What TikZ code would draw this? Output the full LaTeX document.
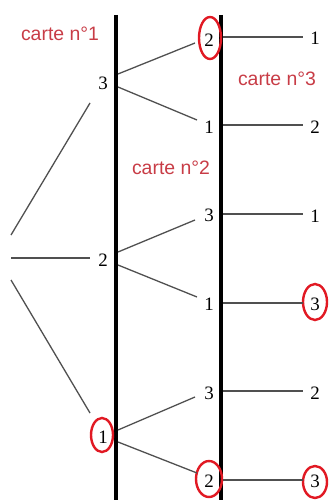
\documentclass[tikz,border=0pt]{standalone}
\usepackage{fontspec}
\setmainfont{Liberation Serif}
\newfontfamily\labfont{Liberation Sans}
\definecolor{labred}{RGB}{200,60,70}
\definecolor{ringred}{RGB}{225,25,35}
\definecolor{branch}{RGB}{80,80,80}
\begin{document}
\begin{tikzpicture}[x=1bp,y=-1bp,
  num/.style={inner sep=0pt,font=\fontsize{19}{20}\selectfont},
  cardlab/.style={inner sep=0pt,text=labred,font=\labfont\fontsize{19.5}{20}\selectfont},
  bar/.style={line width=3.6bp,black},
  br/.style={line width=1.3bp,branch},
  ring/.style={draw=ringred,line width=2.4bp,ellipse,inner sep=0pt}]
\useasboundingbox (0,0) rectangle (329,500);
% bars
\coordinate (b1t) at (116,15); \coordinate (b1b) at (116,500);
\coordinate (b2t) at (221,15); \coordinate (b2b) at (221,500);
\draw[bar] (b1t) -- (b1b);
\draw[bar] (b2t) -- (b2b);
% card labels
\node[cardlab] (c1) at (60,34) {carte n°1};
\node[cardlab] (c2) at (171,168) {carte n°2};
\node[cardlab] (c3) at (277,79) {carte n°3};
% level 1
\node[num] (a3) at (103,83) {3};
\node[num] (a2) at (103,260) {2};
\node[num] (a1) at (103,437) {1};
% level 2
\node[num] (b32) at (209,40) {2};
\node[num] (b31) at (209,127) {1};
\node[num] (b23) at (209,215) {3};
\node[num] (b21) at (209,304) {1};
\node[num] (b13) at (209,393) {3};
\node[num] (b12) at (209,481) {2};
% level 3
\node[num] (c321) at (315,38) {1};
\node[num] (c312) at (315,127) {2};
\node[num] (c231) at (315,216) {1};
\node[num] (c213) at (315,304) {3};
\node[num] (c132) at (315,393) {2};
\node[num] (c123) at (315,481) {3};
% rings
\draw[ringred,line width=2.4bp] (102,435) ellipse [x radius=11, y radius=17];
\draw[ringred,line width=2.4bp] (210,38) ellipse [x radius=11, y radius=21];
\draw[ringred,line width=2.4bp] (315,302) ellipse [x radius=12, y radius=18];
\draw[ringred,line width=2.4bp] (209,479) ellipse [x radius=13, y radius=18];
\draw[ringred,line width=2.4bp] (315,482) ellipse [x radius=12, y radius=16];
% root branches
\coordinate (r1) at (11,235); \coordinate (e1) at (90,103);
\coordinate (r2) at (11,258); \coordinate (e2) at (90,258);
\coordinate (r3) at (11,280); \coordinate (e3) at (90,413);
\draw[br] (r1) -- (e1);
\draw[br] (r2) -- (e2);
\draw[br] (r3) -- (e3);
% level 2 branches
\coordinate (s3a) at (118,74);  \coordinate (t3a) at (195,43);
\coordinate (s3b) at (118,87);  \coordinate (t3b) at (197,120);
\coordinate (s2a) at (118,252); \coordinate (t2a) at (195,220);
\coordinate (s2b) at (118,265); \coordinate (t2b) at (197,297);
\coordinate (s1a) at (118,430); \coordinate (t1a) at (195,397);
\coordinate (s1b) at (118,442); \coordinate (t1b) at (197,473);
\draw[br] (s3a) -- (t3a);
\draw[br] (s3b) -- (t3b);
\draw[br] (s2a) -- (t2a);
\draw[br] (s2b) -- (t2b);
\draw[br] (s1a) -- (t1a);
\draw[br] (s1b) -- (t1b);
% level 3 branches
\foreach \y/\n in {37/1,125/2,214/3,303/4,391/5,480/6}{
  \coordinate (u\n) at (223,\y);
  \coordinate (v\n) at (303,\y);
  \draw[br] (u\n) -- (v\n);
}
\end{tikzpicture}
\end{document}
